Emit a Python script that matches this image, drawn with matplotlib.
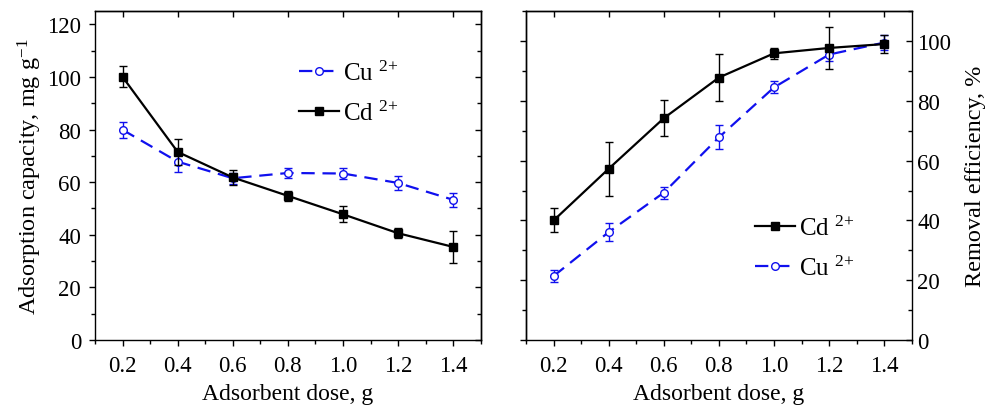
import matplotlib
matplotlib.use('Agg')
import matplotlib.pyplot as plt
from matplotlib.lines import Line2D
from matplotlib.ticker import MultipleLocator

plt.rcParams['font.family'] = ['Liberation Serif', 'DejaVu Serif']
plt.rcParams['mathtext.fontset'] = 'custom'
plt.rcParams['mathtext.rm'] = 'Liberation Serif'
plt.rcParams['mathtext.it'] = 'Liberation Serif'

# 數據
dose = [0.2, 0.4, 0.6, 0.8, 1.0, 1.2, 1.4]

cd_cap = [100.0, 71.5, 61.8, 54.8, 47.8, 40.6, 35.4]
cd_cap_err = [4.0, 5.0, 3.0, 2.0, 3.0, 2.0, 6.0]
cu_cap = [79.9, 67.8, 61.5, 63.5, 63.3, 59.7, 53.3]
cu_cap_err = [3.0, 4.0, 2.0, 2.0, 2.0, 2.5, 2.6]

cd_eff = [40.0, 57.3, 74.2, 87.8, 95.9, 97.7, 99.0]
cd_eff_err = [4.0, 9.0, 6.0, 8.0, 1.8, 7.0, 3.0]
cu_eff = [21.4, 36.1, 49.3, 67.8, 84.5, 95.5, 99.5]
cu_eff_err = [2.0, 3.0, 2.0, 4.0, 2.0, 2.0, 2.6]

FS = 16.5
LFS = 18
BLUE = '#1010ee'
DASH = (0, (6, 3.5))

fig = plt.figure(figsize=(9.89, 4.06), dpi=100)
ax1 = fig.add_axes([0.0961, 0.160, 0.390, 0.810])
ax2 = fig.add_axes([0.5319, 0.160, 0.390, 0.810])


def draw(ax, y_cd, e_cd, y_cu, e_cu):
    ax.errorbar(dose, y_cd, yerr=e_cd, color='black', lw=1.6, marker='s', ms=5.5,
                capsize=2.6, elinewidth=1, capthick=1, zorder=3)
    ax.errorbar(dose, y_cu, yerr=e_cu, color=BLUE, lw=1.6, ls=DASH, marker='o',
                ms=5.5, mfc='white', mec=BLUE, capsize=2.6, elinewidth=1, capthick=1, zorder=2)
    ax.set_xlim(0.1, 1.5)
    ax.set_xticks(dose)
    ax.set_xticklabels([f'{v:.1f}' for v in dose])
    ax.xaxis.set_minor_locator(MultipleLocator(0.1))
    ax.set_xlabel('Adsorbent dose, g', fontsize=FS + 0.5, labelpad=5)
    ax.tick_params(axis='both', labelsize=FS)
    ax.tick_params(which='major', length=4, width=1)
    ax.tick_params(which='minor', length=3, width=1)
    ax.tick_params(axis='x', which='both', direction='out', pad=7)
    for s in ax.spines.values():
        s.set_linewidth(1)
    top = ax.secondary_xaxis('top')
    top.set_xticks(dose)
    top.xaxis.set_minor_locator(MultipleLocator(0.1))
    top.tick_params(which='both', direction='in', labeltop=False, width=1)
    top.tick_params(which='major', length=4)
    top.tick_params(which='minor', length=0)
    top.spines['top'].set_linewidth(1)


def handles():
    h_cd = Line2D([], [], color='black', lw=1.6, marker='s', ms=5.5)
    h_cu = Line2D([], [], color=BLUE, lw=1.6, ls=DASH, marker='o', ms=5.5, mfc='white', mec=BLUE)
    return h_cd, h_cu


draw(ax1, cd_cap, cd_cap_err, cu_cap, cu_cap_err)
ax1.set_ylim(0, 125)
ax1.yaxis.set_major_locator(MultipleLocator(20))
ax1.yaxis.set_minor_locator(MultipleLocator(10))
ax1.tick_params(axis='y', which='both', direction='out', pad=6)
ax1.set_ylabel('Adsorption capacity, mg g$^{-1}$', fontsize=LFS - 0.5, labelpad=2)
r1 = ax1.secondary_yaxis('right')
r1.yaxis.set_major_locator(MultipleLocator(20))
r1.yaxis.set_minor_locator(MultipleLocator(10))
r1.tick_params(which='both', direction='in', labelright=False, width=1)
r1.tick_params(which='major', length=4)
r1.tick_params(which='minor', length=3)
r1.spines['right'].set_linewidth(1)
h_cd, h_cu = handles()
ax1.legend([h_cu, h_cd], ['Cu $^{2{+}}$', 'Cd $^{2{+}}$'], loc='center left', bbox_to_anchor=(0.53, 0.752),
           frameon=False, fontsize=LFS, handlelength=1.6, handletextpad=0.15, labelspacing=0.62,
           borderpad=0, borderaxespad=0)

draw(ax2, cd_eff, cd_eff_err, cu_eff, cu_eff_err)
ax2.set_ylim(0, 110)
ax2.yaxis.set_major_locator(MultipleLocator(20))
ax2.yaxis.set_minor_locator(MultipleLocator(10))
ax2.yaxis.tick_right()
ax2.yaxis.set_label_position('right')
ax2.tick_params(axis='y', which='both', direction='in', left=False, right=True,
                labelleft=False, labelright=True, pad=4)
ax2.set_ylabel('Removal efficiency, %', fontsize=LFS - 0.5, labelpad=10)
l2 = ax2.secondary_yaxis('left')
l2.yaxis.set_major_locator(MultipleLocator(20))
l2.yaxis.set_minor_locator(MultipleLocator(10))
l2.tick_params(which='both', direction='out', labelleft=False, width=1)
l2.tick_params(which='major', length=4)
l2.tick_params(which='minor', length=3)
l2.spines['left'].set_linewidth(1)
h_cd, h_cu = handles()
ax2.legend([h_cd, h_cu], ['Cd $^{2{+}}$', 'Cu $^{2{+}}$'], loc='center left', bbox_to_anchor=(0.593, 0.281),
           frameon=False, fontsize=LFS, handlelength=1.6, handletextpad=0.15, labelspacing=0.62,
           borderpad=0, borderaxespad=0)

plt.savefig('out.png', dpi=100)
plt.close()
